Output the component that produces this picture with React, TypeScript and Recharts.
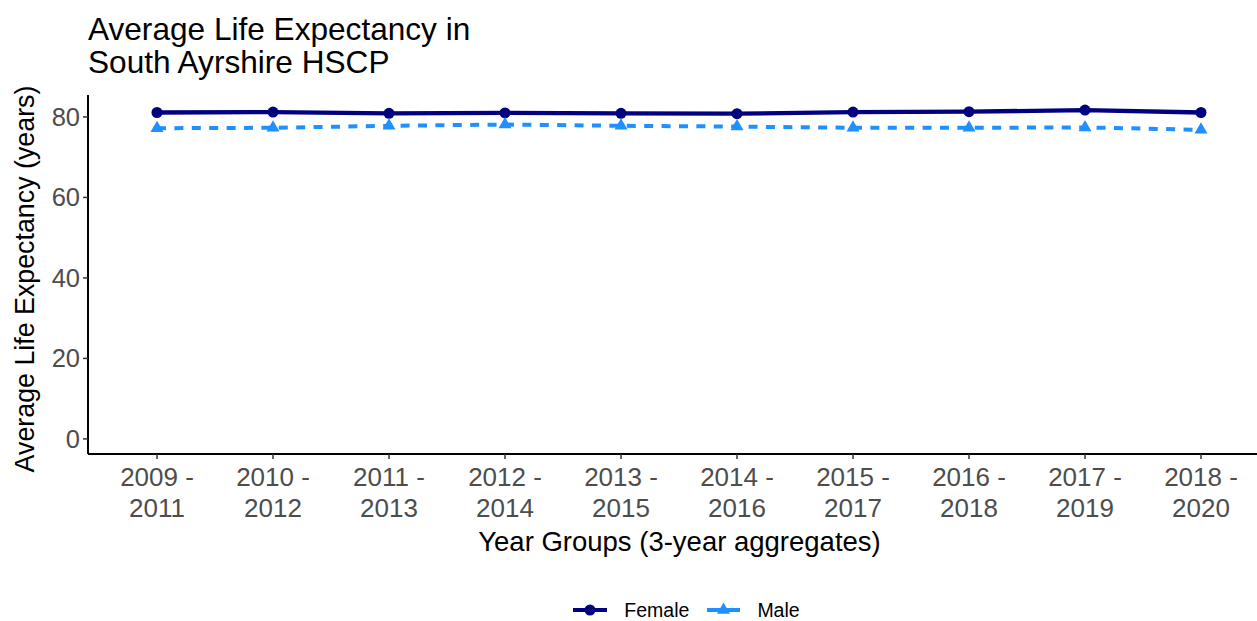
import { LineChart, Line, XAxis, YAxis, Legend } from "recharts";

const FONT = '"Liberation Sans", Arial, Helvetica, sans-serif';

const yearGroups = [
  "2009 - 2011",
  "2010 - 2012",
  "2011 - 2013",
  "2012 - 2014",
  "2013 - 2015",
  "2014 - 2016",
  "2015 - 2017",
  "2016 - 2018",
  "2017 - 2019",
  "2018 - 2020",
];
const femaleLE = [81.1, 81.2, 80.9, 81.0, 80.9, 80.8, 81.2, 81.3, 81.7, 81.1];
const maleLE = [77.2, 77.3, 77.8, 78.1, 77.8, 77.6, 77.3, 77.3, 77.4, 76.8];
const yTicks = [0, 20, 40, 60, 80];

const data = yearGroups.map((g, i) => ({
  group: g,
  Female: femaleLE[i],
  Male: maleLE[i],
}));

const FEMALE = "#000080";
const MALE = "#1E90FF";

function GroupTick(props: any) {
  const { x, y, payload } = props;
  const [a, b] = String(payload.value).split(" - ");
  return (
    <g transform={`translate(${x},${y})`}>
      <text textAnchor="middle" fill="#4d4d4d" fontSize={26} fontFamily={FONT}>
        <tspan x={0} y={24}>{a} -</tspan>
        <tspan x={0} y={55}>{b}</tspan>
      </text>
    </g>
  );
}

function TriangleDot(props: any) {
  const { cx, cy } = props;
  if (cx == null || cy == null) return <g />;
  return (
    <path
      d={`M${cx},${cy - 7.5}L${cx + 6.5},${cy + 3.75}L${cx - 6.5},${cy + 3.75}Z`}
      fill={MALE}
    />
  );
}

function XTitle(props: any) {
  const vb = props.viewBox || { x: 0, y: 0, width: 0 };
  return (
    <text
      x={vb.x + vb.width / 2 + 7}
      y={551}
      textAnchor="middle"
      fill="#000"
      fontSize={27.5}
      fontFamily={FONT}
    >
      Year Groups (3-year aggregates)
    </text>
  );
}

function YTitle() {
  return (
    <text
      transform="translate(34,279) rotate(-90)"
      textAnchor="middle"
      fill="#000"
      fontSize={26.8}
      fontFamily={FONT}
    >
      Average Life Expectancy (years)
    </text>
  );
}

function LegendBox() {
  return (
    <div
      style={{
        display: "flex",
        justifyContent: "center",
        alignItems: "center",
        boxSizing: "border-box",
        paddingLeft: 86,
        height: 22,
        lineHeight: "22px",
        fontFamily: FONT,
        fontSize: 19.5,
        color: "#000",
      }}
    >
      <svg width={34} height={16}>
        <line x1={0} y1={8} x2={34} y2={8} stroke={FEMALE} strokeWidth={4} />
        <circle cx={17} cy={8} r={5.5} fill={FEMALE} />
      </svg>
      <span style={{ marginLeft: 17, marginRight: 18 }}>Female</span>
      <svg width={33} height={16}>
        <line x1={0} y1={8} x2={33} y2={8} stroke={MALE} strokeWidth={4} />
        <path d="M16.5,0.5L23,11.75L10,11.75Z" fill={MALE} />
      </svg>
      <span style={{ marginLeft: 17 }}>Male</span>
    </div>
  );
}

export default function App() {
  return (
    <div style={{ position: "absolute", left: 0, top: 0, width: 1257, height: 621, background: "#fff" }}>
      <svg
        width={600}
        height={90}
        style={{ position: "absolute", left: 0, top: 0 }}
      >
        <text x={88} y={40} fontSize={31.6} fontFamily={FONT} fill="#000">
          Average Life Expectancy in
        </text>
        <text x={88} y={73} fontSize={31.6} fontFamily={FONT} fill="#000">
          South Ayrshire HSCP
        </text>
      </svg>
      <LineChart
        width={1257}
        height={621}
        data={data}
        margin={{ top: 95, right: 0, left: 30, bottom: 0 }}
      >
        <XAxis
          dataKey="group"
          height={145}
          interval={0}
          padding={{ left: 69, right: 56 }}
          axisLine={{ stroke: "#000", strokeWidth: 2 }}
          tickLine={{ stroke: "#333", strokeWidth: 1.5 }}
          tickSize={5}
          tickMargin={3}
          tick={<GroupTick />}
          label={<XTitle />}
        />
        <YAxis
          width={58}
          domain={[-3.75, 85.45]}
          ticks={yTicks}
          interval={0}
          axisLine={{ stroke: "#000", strokeWidth: 2 }}
          tickLine={{ stroke: "#333", strokeWidth: 1.5 }}
          tickSize={5}
          tickMargin={3}
          tick={{ fill: "#4d4d4d", fontSize: 25.5, fontFamily: FONT }}
          label={<YTitle />}
        />
        <Legend verticalAlign="bottom" height={22} content={<LegendBox />} />
        <Line
          type="linear"
          dataKey="Female"
          stroke={FEMALE}
          strokeWidth={4.3}
          dot={{ r: 5.5, fill: FEMALE, stroke: "none" }}
          isAnimationActive={false}
        />
        <Line
          type="linear"
          dataKey="Male"
          stroke={MALE}
          strokeWidth={4}
          strokeDasharray="9 8.4"
          dot={<TriangleDot />}
          isAnimationActive={false}
        />
      </LineChart>
    </div>
  );
}
